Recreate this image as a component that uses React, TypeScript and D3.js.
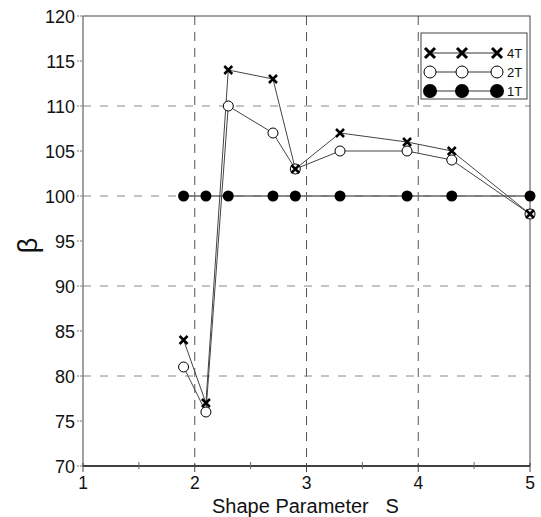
import React, { useEffect, useRef } from 'react';
import * as d3 from 'd3';

const width = 541;
const height = 517;
const padding = { left: 83, right: 11, top: 16, down: 51 };

// shape parameter S
const sValues = [1.9, 2.1, 2.3, 2.7, 2.9, 3.3, 3.9, 4.3, 5.0];
// beta for each series
const beta4T = [84, 77, 114, 113, 103, 107, 106, 105, 98];
const beta2T = [81, 76, 110, 107, 103, 105, 105, 104, 98];
const beta1T = [100, 100, 100, 100, 100, 100, 100, 100, 100];

const xTicks = [1, 2, 3, 4, 5];
const xMinorTicks = [1.5, 2.5, 3.5, 4.5];
const yTicks = [70, 75, 80, 85, 90, 95, 100, 105, 110, 115, 120];
const yGrid = [80, 90, 100, 110];
const xGrid = [2, 3, 4];
const legendNames = ['4T', '2T', '1T'];

const font = 'Liberation Sans, Arial, sans-serif';

export default function App() {
  const ref = useRef<SVGSVGElement>(null);

  useEffect(() => {
    const svg = d3.select(ref.current);
    svg.selectAll('*').remove();

    const x = d3.scaleLinear().domain([1, 5]).range([padding.left, width - padding.right]);
    const y = d3.scaleLinear().domain([70, 120]).range([height - padding.down, padding.top]);

    // grid lines
    svg.append('g').selectAll('line').data(xGrid).join('line')
      .attr('x1', d => x(d)).attr('x2', d => x(d))
      .attr('y1', y(120)).attr('y2', y(70))
      .attr('stroke', '#555').attr('stroke-width', 1)
      .attr('stroke-dasharray', '9,7');

    svg.append('g').selectAll('line').data(yGrid).join('line')
      .attr('x1', x(1)).attr('x2', x(5))
      .attr('y1', d => y(d)).attr('y2', d => y(d))
      .attr('stroke', '#888').attr('stroke-width', 1)
      .attr('stroke-dasharray', '8,9');

    // frame
    svg.append('rect')
      .attr('x', x(1)).attr('y', y(120))
      .attr('width', x(5) - x(1)).attr('height', y(70) - y(120))
      .attr('fill', 'none').attr('stroke', '#444').attr('stroke-width', 1);
    svg.append('line')
      .attr('x1', x(1)).attr('x2', x(5)).attr('y1', y(70)).attr('y2', y(70))
      .attr('stroke', '#222').attr('stroke-width', 1.5);

    // y axis ticks + labels
    const yAxisG = svg.append('g');
    yAxisG.selectAll('line').data(yTicks).join('line')
      .attr('x1', x(1) - 6).attr('x2', x(1))
      .attr('y1', d => y(d)).attr('y2', d => y(d))
      .attr('stroke', '#777').attr('stroke-dasharray', '2,1');
    yAxisG.selectAll('text').data(yTicks).join('text')
      .attr('x', x(1) - 8).attr('y', d => y(d) + 6.5)
      .attr('text-anchor', 'end')
      .attr('font-family', font).attr('font-size', 18).attr('fill', '#111')
      .text(d => d);

    // x axis ticks + labels
    const xAxisG = svg.append('g');
    xAxisG.selectAll('line.major').data(xTicks).join('line')
      .attr('class', 'major')
      .attr('x1', d => x(d)).attr('x2', d => x(d))
      .attr('y1', y(70) - 3).attr('y2', y(70) + 6)
      .attr('stroke', '#444');
    xAxisG.selectAll('line.minor').data(xMinorTicks).join('line')
      .attr('class', 'minor')
      .attr('x1', d => x(d)).attr('x2', d => x(d))
      .attr('y1', y(70) - 4).attr('y2', y(70) + 3)
      .attr('stroke', '#666');
    xAxisG.selectAll('text').data(xTicks).join('text')
      .attr('x', d => x(d)).attr('y', y(70) + 23)
      .attr('text-anchor', 'middle')
      .attr('font-family', font).attr('font-size', 17.5).attr('fill', '#111')
      .text(d => d);

    // axis titles
    svg.append('text')
      .attr('x', 212).attr('y', 513)
      .attr('text-anchor', 'start')
      .attr('font-family', font).attr('font-size', 20).attr('fill', '#111')
      .attr('xml:space', 'preserve')
      .text('Shape Parameter   S');
    svg.append('text')
      .attr('transform', `translate(37, ${y(94.5)}) rotate(-90)`)
      .attr('text-anchor', 'middle')
      .attr('font-family', font).attr('font-size', 27).attr('fill', '#111')
      .text('β');

    const line = d3.line<number>()
      .x((_, i) => x(sValues[i]))
      .y(d => y(d));

    // lines
    svg.append('path').datum(beta1T).attr('d', line)
      .attr('fill', 'none').attr('stroke', '#666').attr('stroke-width', 1.3);
    svg.append('path').datum(beta2T).attr('d', line)
      .attr('fill', 'none').attr('stroke', '#444').attr('stroke-width', 1);
    svg.append('path').datum(beta4T).attr('d', line)
      .attr('fill', 'none').attr('stroke', '#444').attr('stroke-width', 1);

    const drawCross = (g: any, cx: number, cy: number, s: number, w: number) => {
      g.append('path')
        .attr('d', `M${cx - s},${cy - s}L${cx + s},${cy + s}M${cx - s},${cy + s}L${cx + s},${cy - s}`)
        .attr('stroke', '#000').attr('stroke-width', w).attr('fill', 'none');
    };

    // markers
    const marks = svg.append('g');
    sValues.forEach((s, i) => {
      marks.append('circle')
        .attr('cx', x(s)).attr('cy', y(beta1T[i])).attr('r', 5.5)
        .attr('fill', '#000');
    });
    sValues.forEach((s, i) => {
      marks.append('circle')
        .attr('cx', x(s)).attr('cy', y(beta2T[i])).attr('r', 5)
        .attr('fill', '#fff').attr('stroke', '#000').attr('stroke-width', 1);
    });
    sValues.forEach((s, i) => {
      drawCross(marks, x(s), y(beta4T[i]), 4, 2.5);
    });

    // legend
    const lg = svg.append('g');
    lg.append('rect')
      .attr('x', 421).attr('y', 33).attr('width', 106).attr('height', 66)
      .attr('fill', '#fff').attr('stroke', '#444').attr('stroke-width', 1);
    const lx = [430, 462, 497];
    const ly = [53, 72, 91];
    legendNames.forEach((name, r) => {
      const g = lg.append('g');
      g.append('line')
        .attr('x1', lx[0]).attr('x2', lx[2]).attr('y1', ly[r]).attr('y2', ly[r])
        .attr('stroke', '#333').attr('stroke-width', 1);
      lx.forEach(px => {
        if (name === '4T') drawCross(g, px, ly[r], 5, 3);
        else if (name === '2T') g.append('circle').attr('cx', px).attr('cy', ly[r]).attr('r', 6)
          .attr('fill', '#fff').attr('stroke', '#000').attr('stroke-width', 1);
        else g.append('circle').attr('cx', px).attr('cy', ly[r]).attr('r', 7).attr('fill', '#000');
      });
      g.append('text')
        .attr('x', 507).attr('y', ly[r] + 5)
        .attr('font-family', font).attr('font-size', 13).attr('fill', '#111')
        .text(name);
    });
  }, []);

  return (
    <svg ref={ref} width={width} height={height}
      style={{ position: 'absolute', left: 0, top: 0, background: '#fff' }} />
  );
}
